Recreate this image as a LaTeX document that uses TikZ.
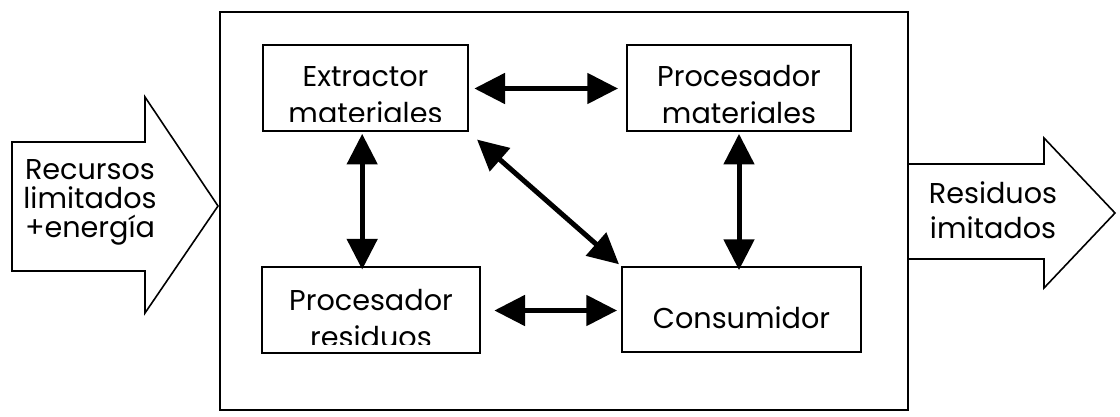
\documentclass[tikz,border=0pt]{standalone}
\usepackage{fontspec}
\setmainfont{Poppins}
\usetikzlibrary{arrows.meta}
\tikzset{
  caja/.style={draw,line width=1.5pt,minimum width=#1,minimum height=64.5pt,inner sep=0pt},
  texto/.style={anchor=base,align=center,inner sep=0pt},
  flecha/.style={{Triangle[length=23pt,width=22.5pt]}-{Triangle[length=23pt,width=22.5pt]},line width=3.75pt},
}
\begin{document}
\begin{tikzpicture}[x=0.75pt,y=-0.75pt,font=\fontsize{21.5}{27.75}\selectfont]
	\useasboundingbox (0,0) rectangle (1120,417);
	% sistema
	\draw[line width=1.5pt] (220,12) rectangle (908,410);
	% entrada y salida
	\draw[line width=1.2pt] (12,142)--(145,142)--(145,97)--(218,206)--(145,313)--(145,271)--(12,271)--cycle;
	\draw[line width=1.2pt] (908,164)--(1044,164)--(1044,138)--(1115,213)--(1044,288)--(1044,259)--(908,259);
	\node[texto,font=\fontsize{21.5}{21.75}\selectfont] (entrada) at (90,237) {Recursos\\limitados\\+energía};
	\node[texto,font=\fontsize{21.5}{26.25}\selectfont] (salida) at (993,238) {Residuos\\imitados};
	% cajas
	\node[caja=153.75pt] (extractor) at (365.5,88.5) {};
	\node[caja=168pt] (procmat) at (739,88.5) {};
	\node[caja=163.5pt] (procres) at (371,309.5) {};
	\node[caja=179.25pt,minimum height=63.75pt] (consumidor) at (741.5,309.5) {};
	\begin{scope}
		\clip (extractor.north west) rectangle ([yshift=8pt]extractor.south east);
		\node[texto] (extractor-txt) at (365.5,124) {Extractor\\materiales};
	\end{scope}
	\begin{scope}
		\clip (procmat.north west) rectangle ([yshift=7pt]procmat.south east);
		\node[texto] (procmat-txt) at (739,124) {Procesador\\materiales};
	\end{scope}
	\begin{scope}
		\clip (procres.north west) rectangle ([yshift=7pt]procres.south east);
		\node[texto] (procres-txt) at (371,347) {Procesador\\residuos};
	\end{scope}
	\node[texto] (consumidor-txt) at (741.5,328) {Consumidor};
	% flechas
	\draw[flecha,shorten <=4pt,shorten >=6pt] (extractor.east)--(procmat.west);
	\draw[flecha,shorten <=1pt,shorten >=-3pt] ([xshift=-2.5pt]extractor.south)--([xshift=-2.5pt]extractor.south |- procres.north);
	\draw[flecha,shorten <=8pt,shorten >=2pt] (extractor.south east)--(consumidor.north west);
	\draw[flecha,shorten <=1pt,shorten >=-3pt] (procmat.south)--(procmat.south |- consumidor.north);
	\draw[flecha,shorten <=10pt,shorten >=3pt] ([yshift=-0.75pt]procres.east)--([yshift=-0.75pt]procres.east -| consumidor.west);
\end{tikzpicture}
\end{document}
